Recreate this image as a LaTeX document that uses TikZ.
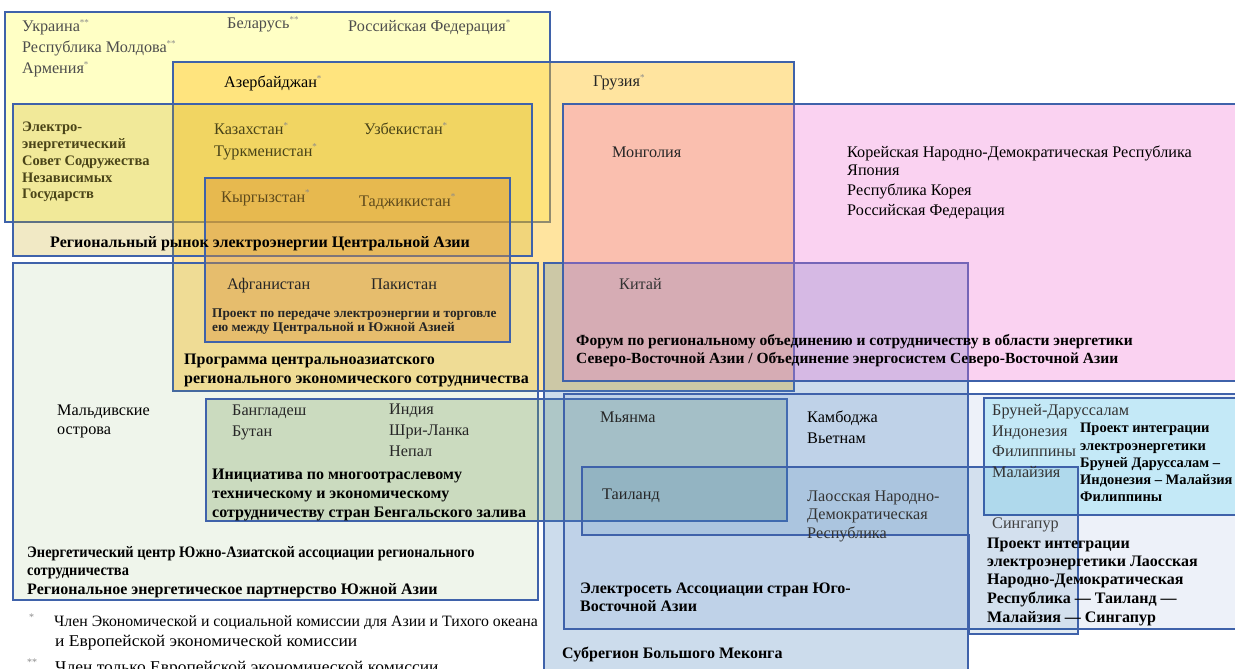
\documentclass[tikz,border=0pt]{standalone}
\usepackage{fontspec}
\setmainfont{Liberation Serif}
\newfontfamily\condf[FakeStretch=0.9]{Liberation Serif}
\newfontfamily\widef[FakeStretch=1.06]{Liberation Serif}
\definecolor{cCIS}{HTML}{FFFFC5}
\definecolor{cCAREC}{HTML}{FFC222}
\definecolor{cCAPS}{HTML}{C6A407}
\definecolor{cCASA}{HTML}{DA9135}
\definecolor{cSAARC}{HTML}{76A449}
\definecolor{cBIM}{HTML}{78A25C}
\definecolor{cNEA}{HTML}{EF6ED5}
\definecolor{cGMS}{HTML}{4982BB}
\definecolor{cASEAN}{HTML}{557DCD}
\definecolor{cBIMP}{HTML}{66D7F3}
\definecolor{cLTMS}{HTML}{1E69A3}
\definecolor{bord}{HTML}{3F62AA}
\definecolor{tgray}{HTML}{4D4D4D}
\definecolor{tolive}{HTML}{4A4418}
\definecolor{tbrown}{HTML}{5E4A1C}
\definecolor{stc}{HTML}{8A8A8A}
\newcommand\st{\textsuperscript{\textcolor{stc}{\fontsize{9}{9}\selectfont*}}}
\newcommand\sst{\textsuperscript{\textcolor{stc}{\fontsize{9}{9}\selectfont**}}}
\tikzset{
  box/.style={draw=bord, line width=1.2pt},
  t/.style={anchor=base west, inner sep=0pt, font=\fontsize{16.2}{19}\selectfont},
  b/.style={anchor=base west, inner sep=0pt, font=\fontsize{16}{19}\selectfont\bfseries},
  fstar/.style={anchor=base west, inner sep=0pt, text=stc, font=\fontsize{10}{10}\selectfont},
}
\begin{document}
\begin{tikzpicture}[x=1pt,y=-1pt]
\useasboundingbox (0,0) rectangle (1235,669);
\clip (0,0) rectangle (1235,669);
\fill[white] (0,0) rectangle (1235,669);
% boxes
\path[box, fill=cCIS] (5,12) rectangle (550,222);
\path[box, fill=cCAREC, fill opacity=0.43] (173,62) rectangle (794,391);
\path[box, fill=cCAPS, fill opacity=0.23] (13,104) rectangle (532,256);
\path[box, fill=cSAARC, fill opacity=0.11] (13,263) rectangle (538,600);
\path[box, fill=cCASA, fill opacity=0.41] (205,178) rectangle (510,342);
\path[box, fill=cBIM, fill opacity=0.3] (206,399) rectangle (787,521);
\path[box, fill=cGMS, fill opacity=0.28] (544,263) rectangle (968,690);
\path[box, fill=cNEA, fill opacity=0.31] (563,104) rectangle (1245,381);
\path[box, fill=cASEAN, fill opacity=0.1] (564,394) rectangle (1245,629);
\path[box, fill=cBIMP, fill opacity=0.3] (984,398) rectangle (1245,515);
\path[box, fill=cLTMS, fill opacity=0.12] (582,467) -- (1078,467) -- (1078,634) -- (969,634) -- (969,535) -- (582,535) -- cycle;
% CIS texts
\node[t, text=tgray] (ukr) at (22,32) {Украина\sst};
\node[t, text=tgray] (blr) at (227,29) {Беларусь\sst};
\node[t, text=tgray] (rus1) at (348,32) {Российская Федерация\st};
\node[t, text=tgray] (mda) at (22,53) {Республика Молдова\sst};
\node[t, text=tgray] (arm) at (22,74) {Армения\st};
\node[t] (aze) at (224,88) {Азербайджан\st};
\node[t, text=black!85] (geo) at (593,87) {Грузия\st};
\node[b, text=tolive, font=\fontsize{14.5}{17}\selectfont\bfseries] (cis1) at (22,131.5) {Электро-};
\node[b, text=tolive, font=\fontsize{14.5}{17}\selectfont\bfseries] (cis2) at (22,148.5) {энергетический};
\node[b, text=tolive, font=\fontsize{14.5}{17}\selectfont\bfseries] (cis3) at (22,165.5) {Совет Содружества};
\node[b, text=tolive, font=\fontsize{14.5}{17}\selectfont\bfseries] (cis4) at (22,182) {Независимых};
\node[b, text=tolive, font=\fontsize{14.5}{17}\selectfont\bfseries] (cis5) at (22,198) {Государств};
\node[t, text=tolive] (kaz) at (214,135) {Казахстан\st};
\node[t, text=tolive] (uzb) at (364,135) {Узбекистан\st};
\node[t, text=tolive] (tkm) at (214,156) {Туркменистан\st};
\node[t, text=tbrown] (kgz) at (221,202) {Кыргызстан\st};
\node[t, text=tbrown] (tjk) at (359,206) {Таджикистан\st};
\node[b] (capsl) at (50,247) {Региональный рынок электроэнергии Центральной Азии};
\node[t, text=black!85] (afg) at (227,289) {Афганистан};
\node[t, text=black!85] (pak) at (371,289) {Пакистан};
\node[b, text=black!85, font=\fontsize{13.3}{15}\selectfont\bfseries] (casa1) at (212,317) {Проект по передаче электроэнергии и торговле};
\node[b, text=black!85, font=\fontsize{13.3}{15}\selectfont\bfseries] (casa2) at (212,331) {ею между Центральной и Южной Азией};
\node[b] (carec1) at (184,364) {Программа центральноазиатского};
\node[b] (carec2) at (184,383) {регионального экономического сотрудничества};
% South Asia
\node[t] (mdv1) at (57,415) {Мальдивские};
\node[t] (mdv2) at (57,434) {острова};
\node[t, text=black!85] (bgd) at (232,415) {Бангладеш};
\node[t, text=black!85] (btn) at (232,436) {Бутан};
\node[t, text=black!85] (ind) at (389,414) {Индия};
\node[t, text=black!85] (lka) at (389,435) {Шри-Ланка};
\node[t, text=black!85] (npl) at (389,456) {Непал};
\node[b] (bim1) at (212,479) {Инициатива по многоотраслевому};
\node[b] (bim2) at (212,498) {техническому и экономическому};
\node[b] (bim3) at (212,517) {сотрудничеству стран Бенгальского залива};
\node[b, font=\fontsize{16}{19}\selectfont\condf\bfseries] (saarc1) at (27,557) {Энергетический центр Южно-Азиатской ассоциации регионального};
\node[b, font=\fontsize{16}{19}\selectfont\condf\bfseries] (saarc2) at (27,575) {сотрудничества};
\node[b] (saarc3) at (27,594) {Региональное энергетическое партнерство Южной Азии};
% footnotes
\node[fstar] (fs1) at (29,620) {*};
\node[t, font=\fontsize{15.8}{18}\selectfont] (fn1) at (54,626) {Член Экономической и социальной комиссии для Азии и Тихого океана};
\node[t, font=\fontsize{16.5}{19}\selectfont\widef] (fn2) at (55,646) {и Европейской экономической комиссии};
\node[fstar] (fs2) at (27,665) {**};
\node[t, font=\fontsize{16.5}{19}\selectfont\widef] (fn3) at (55,672) {Член только Европейской экономической комиссии};
% North-East Asia
\node[t, text=black!85] (mng) at (612,157) {Монголия};
\node[t] (prk) at (847,157) {Корейская Народно-Демократическая Республика};
\node[t] (jpn) at (847,175) {Япония};
\node[t] (kor) at (847,195) {Республика Корея};
\node[t] (rus2) at (847,215) {Российская Федерация};
\node[t, text=black!80] (chn) at (619,289) {Китай};
\node[b, font=\fontsize{15.5}{18}\selectfont\bfseries] (nea1) at (576,345) {Форум по региональному объединению и сотрудничеству в области энергетики};
\node[b, font=\fontsize{15.5}{18}\selectfont\bfseries] (nea2) at (576,363) {Северо-Восточной Азии / Объединение энергосистем Северо-Восточной Азии};
% South-East Asia
\node[t, text=black!85] (mmr) at (600,422) {Мьянма};
\node[t] (khm) at (807,422) {Камбоджа};
\node[t] (vnm) at (807,443) {Вьетнам};
\node[t, text=black!85] (tha) at (602,499) {Таиланд};
\node[t, text=black!80] (lao1) at (807,501) {Лаосская Народно-};
\node[t, text=black!80] (lao2) at (807,519) {Демократическая};
\node[t, text=black!80] (lao3) at (807,538) {Республика};
\node[t, text=black!80] (brn) at (992,415) {Бруней-Даруссалам};
\node[t, text=black!80] (idn) at (992,436) {Индонезия};
\node[t, text=black!80] (phl) at (992,456) {Филиппины};
\node[t, text=black!80] (mys) at (992,477) {Малайзия};
\node[b, font=\fontsize{14.5}{17}\selectfont\bfseries] (bimp1) at (1080,432) {Проект интеграции};
\node[b, font=\fontsize{14.5}{17}\selectfont\bfseries] (bimp2) at (1080,450) {электроэнергетики};
\node[b, font=\fontsize{14.5}{17}\selectfont\bfseries] (bimp3) at (1080,467) {Бруней Даруссалам –};
\node[b, font=\fontsize{14.5}{17}\selectfont\bfseries] (bimp4) at (1080,484) {Индонезия – Малайзия};
\node[b, font=\fontsize{14.5}{17}\selectfont\bfseries] (bimp5) at (1080,501) {Филиппины};
\node[t, text=black!75] (sgp) at (992,528) {Сингапур};
\node[b] (ltms1) at (987,548) {Проект интеграции};
\node[b] (ltms2) at (987,566) {электроэнергетики Лаосская};
\node[b] (ltms3) at (987,584) {Народно-Демократическая};
\node[b] (ltms4) at (987,603) {Республика — Таиланд —};
\node[b] (ltms5) at (987,622) {Малайзия — Сингапур};
\node[b] (asean1) at (580,593) {Электросеть Ассоциации стран Юго-};
\node[b] (asean2) at (580,611) {Восточной Азии};
\node[b] (gms) at (562,658) {Субрегион Большого Меконга};
\end{tikzpicture}
\end{document}
